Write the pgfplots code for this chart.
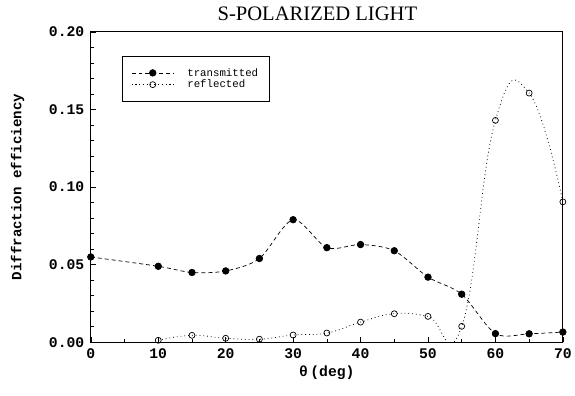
\documentclass[border=0pt]{standalone}
\usepackage{fontspec}
\setmainfont{Liberation Serif}
\setmonofont{Liberation Mono}
\usepackage{pgfplots}
\pgfplotsset{compat=1.18}
\begin{document}
\begin{tikzpicture}
\begin{axis}[
  scale only axis,
  width=473bp, height=311bp,
  xmin=0, xmax=70, ymin=0, ymax=0.20,
  xtick={0,10,...,70}, ytick={0,0.05,...,0.2},
  minor xtick={5,15,...,65},
  minor y tick num=4,
  xtick pos=bottom, ytick pos=left,
  tick align=inside,
  major tick length=5bp, minor tick length=3bp,
  axis line style={line width=1.1bp},
  tick style={line width=0.6bp, black},
  /pgf/number format/assume math mode=true,
  yticklabel style={/pgf/number format/fixed,/pgf/number format/fixed zerofill,/pgf/number format/precision=2},
  ticklabel style={font=\ttfamily\bfseries\fontsize{14.8}{16}\selectfont},
  xticklabel style={yshift=-3bp},
  yticklabel style={xshift=-3bp},
  title={S-POLARIZED LIGHT},
  title style={font=\fontsize{20.7}{24}\selectfont, at={(0.48,1)}, anchor=south, yshift=2bp},
  xlabel={θ\,(deg)},
  xlabel style={font=\ttfamily\bfseries\fontsize{14.8}{16}\selectfont, yshift=0bp},
  ylabel={Diffraction efficiency},
  ylabel style={font=\ttfamily\bfseries\fontsize{14.2}{16}\selectfont, yshift=18bp},
  legend style={at={(axis cs:4.6,0.1845)}, anchor=north west,
    font=\ttfamily\fontsize{10.8}{12}\selectfont, draw=black, line width=0.6bp,
    inner xsep=9bp, inner ysep=10bp, row sep=-1.5bp},
  legend cell align=left,
  legend image code/.code={\draw[mark repeat=2,mark phase=2] plot coordinates {(0cm,0cm) (0.75cm,0cm) (1.5cm,0cm)};
    \path (1.5cm+11bp,0cm);},
]
\addplot[black, line width=0.7bp, dash pattern=on 4bp off 3bp, smooth,
  mark=*, mark size=3.3bp, mark options={solid}]
coordinates {
(0,0.055) (10,0.049) (15,0.045) (20,0.046) (25,0.054) (30,0.079) (35,0.061)
(40,0.063) (45,0.059) (50,0.042) (55,0.031) (60,0.0056) (65,0.0055) (70,0.0066)
};
\addlegendentry{transmitted}
\addplot[black, line width=0.8bp, dash pattern=on 0.8bp off 3bp, smooth, tension=0.8,
  mark=o, mark size=3bp, mark options={solid, line width=0.7bp, fill=white}]
coordinates {
(10,0.0013) (15,0.0045) (20,0.0026) (25,0.002) (30,0.0047) (35,0.006)
(40,0.013) (45,0.0184) (50,0.0167) (55,0.0103) (60,0.143) (65,0.1606) (70,0.0905)
};
\addlegendentry{reflected}
\end{axis}
\path (current axis.south west) ++(-91bp,-53bp) rectangle ++(575bp,396bp);
\end{tikzpicture}
\end{document}
